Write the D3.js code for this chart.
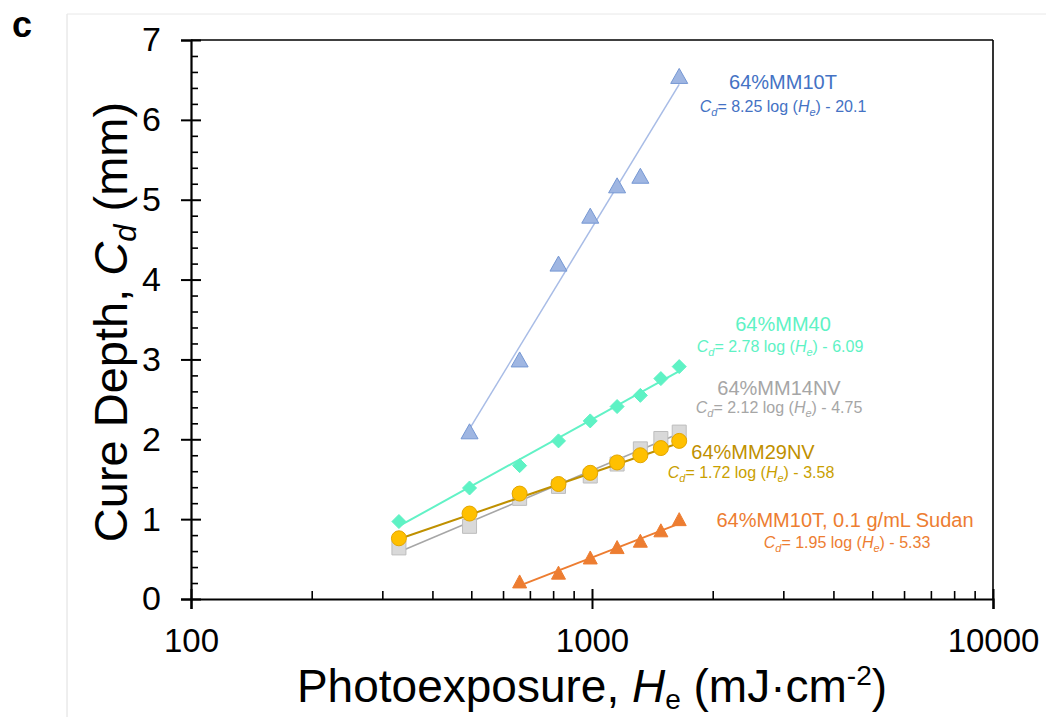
<!DOCTYPE html>
<html><head><meta charset="utf-8">
<script src="https://cdn.jsdelivr.net/npm/d3@7"></script>
<style>
html,body{margin:0;padding:0;background:#fff;}
svg{display:block;font-family:"Liberation Sans",Arial,sans-serif;}
</style></head>
<body>
<svg id="chart" width="1046" height="717"></svg>
<script>
// ---- data ----
const xMajorTicks = [100, 1000, 10000];
const xMinorTicks = [200,300,400,500,600,700,800,900,2000,3000,4000,5000,6000,7000,8000,9000];
const yMajorTicks = [0,1,2,3,4,5,6,7];
const yMinorTicks = d3.range(0, 7.01, 0.2).filter(v => Math.abs(v - Math.round(v)) > 1e-6);

const exposure = [330, 495, 660, 825, 990, 1155, 1320, 1485, 1650];

const mm10tHe = [495, 660, 825, 990, 1155, 1320, 1650];
const mm10tCd = [2.10, 3.00, 4.20, 4.80, 5.18, 5.30, 6.55];

const mm40Cd   = [0.97, 1.39, 1.67, 1.98, 2.23, 2.41, 2.55, 2.76, 2.91];
const mm14nvCd = [0.64, 0.91, 1.26, 1.41, 1.54, 1.69, 1.88, 2.01, 2.09];
const mm29nvCd = [0.76, 1.07, 1.32, 1.44, 1.58, 1.71, 1.80, 1.89, 1.98];

const sudanHe = [660, 825, 990, 1155, 1320, 1485, 1650];
const sudanCd = [0.22, 0.33, 0.52, 0.65, 0.73, 0.86, 1.00];

// fit coefficients: Cd = a log(He) + b
const fitMM10T  = [8.25, -20.1];
const fitMM40   = [2.78, -6.09];
const fitMM14NV = [2.12, -4.75];
const fitMM29NV = [1.72, -3.58];
const fitSudan  = [1.95, -5.33];

const seriesNames = ["64%MM10T", "64%MM40", "64%MM14NV", "64%MM29NV", "64%MM10T, 0.1 g/mL Sudan"];
const eqText = ["8.25 log (", "2.78 log (", "2.12 log (", "1.72 log (", "1.95 log ("];
const eqTail = [") - 20.1", ") - 6.09", ") - 4.75", ") - 3.58", ") - 5.33"];

// ---- layout ----
const svg = d3.select("#chart");
const x = d3.scaleLog().domain([100, 10000]).range([191, 993]);
const y = d3.scaleLinear().domain([0, 7]).range([599, 40]);

// panel frame lines
svg.append("line").attr("x1",67).attr("x2",67).attr("y1",14).attr("y2",717).attr("stroke","#dedede").attr("stroke-width",1);
svg.append("line").attr("x1",67).attr("x2",1046).attr("y1",14).attr("y2",14).attr("stroke","#e8e8e8").attr("stroke-width",1);

svg.append("text").attr("x",12).attr("y",37).attr("font-size",36).attr("font-weight","bold").text("c");

// plot frame (top/right)
svg.append("line").attr("x1",x(100)).attr("x2",x(10000)).attr("y1",y(7)).attr("y2",y(7)).attr("stroke","#000").attr("stroke-width",1.6);
svg.append("line").attr("x1",x(10000)).attr("x2",x(10000)).attr("y1",y(7)).attr("y2",y(0)).attr("stroke","#000").attr("stroke-width",1.6);

// x axis
const gx = svg.append("g").attr("transform",`translate(0,${y(0)})`)
  .call(d3.axisBottom(x).tickValues(xMajorTicks).tickFormat(d3.format("d")).tickSize(10).tickPadding(20));
gx.select(".domain").attr("stroke-width",2.2);
gx.selectAll(".tick line").attr("y1",-10).attr("stroke-width",2);
gx.selectAll(".tick text").attr("font-size",33).attr("font-family","Liberation Sans, Arial, sans-serif").attr("fill","#000");
const gxm = svg.append("g").attr("transform",`translate(0,${y(0)})`)
  .call(d3.axisTop(x).tickValues(xMinorTicks).tickFormat("").tickSize(8));
gxm.select(".domain").remove();
gxm.selectAll(".tick line").attr("stroke-width",1.6);

// y axis
const gy = svg.append("g").attr("transform",`translate(${x(100)},0)`)
  .call(d3.axisLeft(y).tickValues(yMajorTicks).tickFormat(d3.format("d")).tickSize(10).tickPadding(20));
gy.select(".domain").attr("stroke-width",2.2);
gy.selectAll(".tick line").attr("x1",10).attr("stroke-width",2);
gy.selectAll(".tick text").attr("font-size",34).attr("font-family","Liberation Sans, Arial, sans-serif").attr("fill","#000");
const gym = svg.append("g").attr("transform",`translate(${x(100)},0)`)
  .call(d3.axisRight(y).tickValues(yMinorTicks).tickFormat("").tickSize(7));
gym.select(".domain").remove();
gym.selectAll(".tick line").attr("stroke-width",1.6);

// axis titles
const yl = svg.append("text").attr("transform",`translate(127,322) rotate(-90)`)
  .attr("text-anchor","middle").attr("font-size",47).attr("fill","#000");
yl.append("tspan").text("Cure Depth, ");
yl.append("tspan").attr("font-style","italic").text("C");
yl.append("tspan").attr("font-style","italic").attr("font-size",31).attr("dy",9).text("d");
yl.append("tspan").attr("dy",-9).text(" (mm)");

const xl = svg.append("text").attr("x",592).attr("y",702)
  .attr("text-anchor","middle").attr("font-size",46).attr("fill","#000");
xl.append("tspan").text("Photoexposure, ");
xl.append("tspan").attr("font-style","italic").text("H");
xl.append("tspan").attr("font-size",28).attr("dy",7).text("e");
xl.append("tspan").attr("dy",-7).text(" (mJ\u00B7cm");
xl.append("tspan").attr("font-size",28).attr("dy",-17).text("-2");
xl.append("tspan").attr("dy",17).text(")");

// ---- marks ----
const plot = svg.append("g");
function fitLine(coef, xs, color, w){
  const line = d3.line().x(d => x(d)).y(d => y(coef[0]*Math.log10(d) + coef[1]));
  plot.append("path").datum([d3.min(xs), d3.max(xs)]).attr("d", line)
    .attr("fill","none").attr("stroke",color).attr("stroke-width",w);
}
function triPath(w,h){ return `M0,${-h/2}L${w/2},${h/2}L${-w/2},${h/2}Z`; }
function diaPath(r){ return `M0,${-r}L${r},0L0,${r}L${-r},0Z`; }
function sqPath(s){ return `M${-s/2},${-s/2}h${s}v${s}h${-s}Z`; }

function markers(xs, ys, pathStr, fill, stroke, sw){
  plot.append("g").selectAll("path").data(xs.map((d,i)=>[d, ys[i]])).join("path")
    .attr("transform", d => `translate(${x(d[0])},${y(d[1])})`)
    .attr("d", pathStr).attr("fill", fill).attr("stroke", stroke).attr("stroke-width", sw);
}

// blue
fitLine(fitMM10T, mm10tHe, "#A8BCE6", 1.5);
markers(mm10tHe, mm10tCd, triPath(17,15), "#9FB6E2", "#7597D3", 1);
// green
fitLine(fitMM40, exposure, "#62F2C6", 2);
markers(exposure, mm40Cd, diaPath(7), "#5EF2C4", "#5EF2C4", 1);
// gray
fitLine(fitMM14NV, exposure, "#A6A6A6", 1.6);
markers(exposure, mm14nvCd, sqPath(14), "#D9D9D9", "#BDBDBD", 1);
// yellow
fitLine(fitMM29NV, exposure, "#BF9000", 2);
plot.append("g").selectAll("circle").data(exposure.map((d,i)=>[d, mm29nvCd[i]])).join("circle")
  .attr("cx", d => x(d[0])).attr("cy", d => y(d[1])).attr("r", 7.5)
  .attr("fill","#FFC000").attr("stroke","#E3A600").attr("stroke-width",1);
// orange
fitLine(fitSudan, sudanHe, "#ED7D31", 2);
markers(sudanHe, sudanCd, triPath(14,13), "#ED7D31", "#ED7D31", 1);

// ---- annotations ----
const labelColors = ["#4472C4", "#5EF2C4", "#A6A6A6", "#BF9000", "#ED7D31"];
const eqColors    = ["#4472C4", "#5EF2C4", "#A6A6A6", "#C9A000", "#ED7D31"];
const labelPos = [[783,89,783,112],[783,331,780,352],[779,395,779,413],[753,459,751,478],[845,527,847,548]];
seriesNames.forEach((name,i)=>{
  const p = labelPos[i];
  svg.append("text").attr("x",p[0]).attr("y",p[1]).attr("text-anchor","middle")
    .attr("font-size",20).attr("fill",labelColors[i]).text(name);
  const t = svg.append("text").attr("x",p[2]).attr("y",p[3]).attr("text-anchor","middle")
    .attr("font-size",16).attr("fill",eqColors[i]);
  t.append("tspan").attr("font-style","italic").text("C");
  t.append("tspan").attr("font-style","italic").attr("font-size",11).attr("dy",4).text("d");
  t.append("tspan").attr("dy",-4).text("= " + eqText[i]);
  t.append("tspan").attr("font-style","italic").text("H");
  t.append("tspan").attr("font-style","italic").attr("font-size",11).attr("dy",4).text("e");
  t.append("tspan").attr("dy",-4).text(eqTail[i]);
});
</script>
</body></html>
